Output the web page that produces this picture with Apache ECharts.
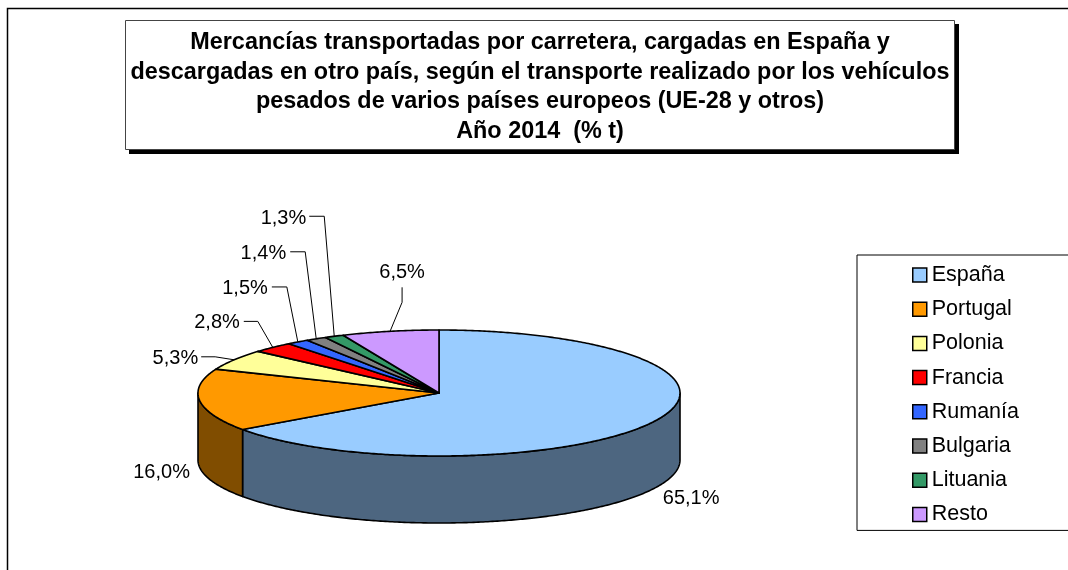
<!DOCTYPE html>
<html><head><meta charset="utf-8">
<style>html,body{margin:0;padding:0;background:#fff}#c{width:1068px;height:570px}</style>
<script src="https://cdn.jsdelivr.net/npm/echarts@6/dist/echarts.min.js"></script>
</head><body><div id="c"></div>
<script>
const categories = ['España','Portugal','Polonia','Francia','Rumanía','Bulgaria','Lituania','Resto'];
const shares = [65.1,16.0,5.3,2.8,1.5,1.4,1.3,6.5];
const valueLabels = ['65,1%','16,0%','5,3%','2,8%','1,5%','1,4%','1,3%','6,5%'];
const colors = ['#99CCFF','#FF9900','#FFFF99','#FF0000','#3366FF','#808080','#339966','#CC99FF'];
const wallColors = ['#4D6680','#804D00','#808050','#800000','#1A3380','#404040','#1A4D33','#664D80'];

// Label layout, relative to the rim point at the middle of each slice.
const labelLayout = [
  {text:[38,77], align:'center'},
  {text:[-38,72], align:'center'},
  {leader:[[-19,-3],[-33,-3]], text:[-36,-1], align:'right'},
  {leader:[[-15,-26],[-29,-26]], text:[-33,-24.5], align:'right'},
  {leader:[[-11,-55],[-26,-55]], text:[-30,-53.5], align:'right'},
  {leader:[[-11,-87],[-26,-87]], text:[-30,-85.5], align:'right'},
  {leader:[[-10,-120],[-25,-120]], text:[-28,-118], align:'right'},
  {leader:[[12,-29],[12,-44]], text:[12,-59], align:'center'}
];

const total = shares.reduce((a,b)=>a+b,0);
const pie = {cx:439, cy:393, rx:241, ry:63, depth:67};
const TAU = Math.PI*2;
const toAngle = v => echarts.number.linearMap(v,[0,total],[0,TAU]);
const rim = (a,dy=0) => [pie.cx+pie.rx*Math.sin(a), pie.cy-pie.ry*Math.cos(a)+dy];
function arc(a0,a1,dy=0){
  const n=Math.max(2,Math.ceil((a1-a0)/0.01)), p=[];
  for(let i=0;i<=n;i++) p.push(rim(a0+(a1-a0)*i/n,dy));
  return p;
}
const line = {stroke:'#000',lineWidth:1.6,lineJoin:'round'};

let running = 0;
const series = categories.map((name,i)=>{
  const start = running; running += shares[i];
  return {
    type:'custom', name, coordinateSystem:'none', silent:true, clip:false,
    itemStyle:{color:colors[i],borderColor:'#000',borderWidth:1.5},
    data:[[start,shares[i]]],
    renderItem(params,api){
      const s=api.value(0), v=api.value(1);
      const a0=toAngle(s), a1=toAngle(s+v), mid=(a0+a1)/2;
      const children=[];
      const w0=Math.max(a0,Math.PI/2), w1=Math.min(a1,Math.PI*1.5);
      if(w1>w0){
        const top=arc(w0,w1), bottom=arc(w0,w1,pie.depth).reverse();
        children.push({type:'polygon',shape:{points:top.concat(bottom)},style:{fill:wallColors[i],...line}});
      }
      children.push({type:'polygon',shape:{points:[[pie.cx,pie.cy]].concat(arc(a0,a1))},style:{fill:colors[i],...line}});
      const r=rim(mid), l=labelLayout[i];
      if(l.leader){
        const pts=[r].concat(l.leader.map(o=>[r[0]+o[0],r[1]+o[1]]));
        children.push({type:'polyline',shape:{points:pts},style:{fill:null,stroke:'#000',lineWidth:1}});
      }
      children.push({type:'text',style:{x:r[0]+l.text[0],y:r[1]+l.text[1],text:valueLabels[i],
        fill:'#000',font:'20px "Liberation Sans"',align:l.align,verticalAlign:'middle'}});
      return {type:'group',children};
    }
  };
});

const chart = echarts.init(document.getElementById('c'),null,{renderer:'canvas'});
chart.setOption({
  animation:false,
  backgroundColor:'#fff',
  title:{
    text:'Mercancías transportadas por carretera, cargadas en España y\ndescargadas en otro país, según el transporte realizado por los vehículos\npesados de varios países europeos (UE-28 y otros)\nAño 2014  (% t)',
    left:540, top:27.5, textAlign:'center', padding:0, z:10,
    textStyle:{color:'#000',fontFamily:'Liberation Sans',fontWeight:'bold',fontSize:23.4,lineHeight:29.7,align:'center'}
  },
  legend:{
    orient:'vertical', left:857, top:255, data:categories, icon:'rect', selectedMode:false,
    itemWidth:14, itemHeight:14, itemGap:12.2, padding:[9,60,5,55],
    borderColor:'#000', borderWidth:1,
    textStyle:{color:'#000',fontFamily:'Liberation Sans',fontSize:21.5,padding:[0,0,0,0]},
    itemStyle:{borderColor:'#000',borderWidth:1.5}
  },
  graphic:[
    {type:'rect',z:0,silent:true,shape:{x:7.5,y:8.5,width:1200,height:700},style:{fill:'#fff',stroke:'#000',lineWidth:1.5}},
    {type:'rect',z:1,silent:true,shape:{x:129,y:24,width:830,height:130},style:{fill:'#000'}},
    {type:'rect',z:2,silent:true,shape:{x:125.5,y:20.5,width:829,height:129},style:{fill:'#fff',stroke:'#444',lineWidth:1}}
  ],
  series
});
</script></body></html>
